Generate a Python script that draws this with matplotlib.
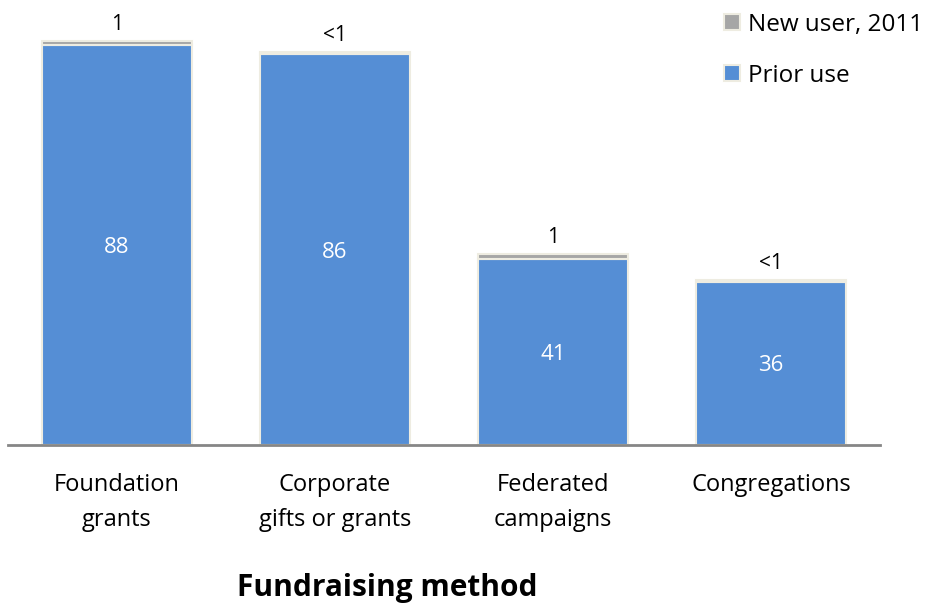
import numpy as np
import matplotlib.pyplot as plt

plt.rcParams['font.family'] = ['Open Sans', 'DejaVu Sans']

# Datos
metodos = ["Foundation\ngrants", "Corporate\ngifts or grants", "Federated\ncampaigns", "Congregations"]
prior = [88, 86, 41, 36]
nuevo = [1, 0.5, 1, 0.3]
etiq_nuevo = ["1", "<1", "1", "<1"]

azul = "#558ED5"
gris = "#A6A6A6"
borde = "#EEECE1"

fig = plt.figure(figsize=(9.31, 6.03), dpi=100)
ax = fig.add_axes([8/931, 158/603, 872/931, 445/603])

x = np.arange(len(metodos))
w = 0.69
b1 = ax.bar(x, prior, w, color=azul, edgecolor=borde, linewidth=1.5, label="Prior use")
b2 = ax.bar(x, nuevo, w, bottom=prior, color=gris, edgecolor=borde, linewidth=1.5, label="New user, 2011")

# Etiquetas dentro y encima de las barras
for i in range(len(metodos)):
    ax.text(x[i], prior[i] / 2 - 0.5, str(prior[i]), ha="center", va="center",
            color="white", fontsize=16)
    ax.text(x[i], prior[i] + nuevo[i] + 1.3, etiq_nuevo[i], ha="center", va="bottom",
            color="black", fontsize=15)

ax.set_xlim(-0.5, len(metodos) - 0.5)
ax.set_ylim(0, 98)
ax.set_yticks([])
ax.set_xticks(x)
ax.set_xticklabels(metodos, fontsize=17, linespacing=1.6)
ax.tick_params(axis="x", length=0, pad=20)
for s in ["top", "right", "left"]:
    ax.spines[s].set_visible(False)
ax.spines["bottom"].set_color("#868686")
ax.spines["bottom"].set_linewidth(2)

fig.text(387/931, 1 - 588/603, "Fundraising method", fontsize=21.5, fontweight="bold",
         ha="center", va="center")

leg = fig.legend(handles=[b2, b1], loc="upper left", bbox_to_anchor=(702/931, 1.015),
                 frameon=False, fontsize=17.5, handlelength=0.65, handleheight=0.65,
                 handletextpad=0.35, labelspacing=1.1)

fig.savefig("out.png", dpi=100)
